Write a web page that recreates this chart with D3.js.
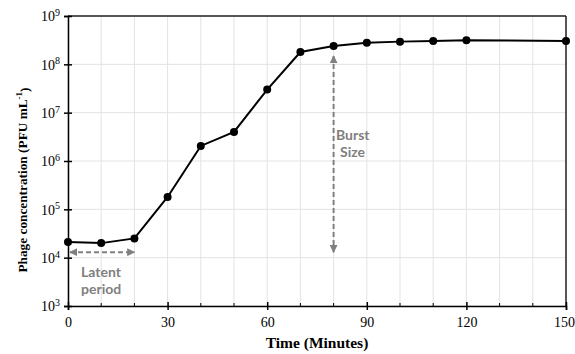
<!DOCTYPE html>
<html>
<head>
<meta charset="utf-8">
<script src="https://cdn.jsdelivr.net/npm/d3@7"></script>
<style>
html,body{margin:0;padding:0;background:#fff;}
svg{display:block;}
</style>
</head>
<body>
<svg id="chart" width="575" height="354"></svg>
<script>
const times = [0, 10, 20, 30, 40, 50, 60, 70, 80, 90, 100, 110, 120, 150];
const pfu = [2.1e4, 2.0e4, 2.5e4, 1.8e5, 2.05e6, 4.0e6, 3.0e7, 1.8e8, 2.4e8, 2.8e8, 2.95e8, 3.05e8, 3.15e8, 3.05e8];
const xTicks = [0, 30, 60, 90, 120, 150];
const xMinor = [10, 20, 40, 50, 70, 80, 100, 110, 130, 140];
const yExponents = [3, 4, 5, 6, 7, 8, 9];
const latentRange = [0, 20];
const latentLevel = 1.3e4;
const burstTime = 80;
const burstRange = [1.8e8, 1.3e4];

const svg = d3.select("#chart");
const L = 68, R = 566, T = 16, B = 306;
const x = d3.scaleLinear().domain([0, 150]).range([L, R]);
const y = d3.scaleLog().domain([1e3, 1e9]).range([B, T]);
const serif = "'Liberation Serif','Times New Roman',serif";

// grid
const grid = svg.append("g");
d3.range(0, 151, 10).forEach(t => {
  grid.append("line").attr("x1", x(t)).attr("x2", x(t)).attr("y1", T).attr("y2", B)
    .attr("stroke", "#e3e3e3").attr("stroke-width", 1);
});
yExponents.forEach(e => {
  grid.append("line").attr("x1", L).attr("x2", R).attr("y1", y(Math.pow(10, e))).attr("y2", y(Math.pow(10, e)))
    .attr("stroke", "#e3e3e3").attr("stroke-width", 1);
});

// frame top/right
svg.append("line").attr("x1", L).attr("x2", R).attr("y1", T).attr("y2", T).attr("stroke", "#222").attr("stroke-width", 1.5);
svg.append("line").attr("x1", R).attr("x2", R).attr("y1", T).attr("y2", B).attr("stroke", "#222").attr("stroke-width", 1.5);

// x axis
const xAxis = d3.axisBottom(x).tickValues(xTicks).tickSize(4).tickPadding(7).tickFormat(d3.format("d"));
const gx = svg.append("g").attr("transform", `translate(0,${B})`).call(xAxis);
gx.select(".domain").attr("stroke", "#000").attr("stroke-width", 1.5);
gx.selectAll(".tick line").attr("stroke", "#000").attr("stroke-width", 1.5).attr("y1", -4).attr("y2", 4);
gx.selectAll(".tick text").attr("font-family", serif).attr("font-size", 14).attr("fill", "#000");
gx.selectAll(".tick text").filter(d => d === 150).attr("text-anchor", "end").attr("x", 8.5);
xMinor.forEach(t => {
  svg.append("line").attr("x1", x(t)).attr("x2", x(t)).attr("y1", B).attr("y2", B - 3)
    .attr("stroke", "#000").attr("stroke-width", 1);
});

// y axis
const yAxis = d3.axisLeft(y).tickValues(yExponents.map(e => Math.pow(10, e))).tickSize(4).tickPadding(6).tickFormat("");
const gy = svg.append("g").attr("transform", `translate(${L},0)`).call(yAxis);
gy.select(".domain").attr("stroke", "#000").attr("stroke-width", 1.5);
gy.selectAll(".tick line").attr("stroke", "#000").attr("stroke-width", 1.5).attr("x1", -4).attr("x2", 4);
gy.selectAll(".tick").each(function(d) {
  const e = Math.round(Math.log10(d));
  const t = d3.select(this).append("text")
    .attr("x", -8).attr("dy", "0.35em").attr("text-anchor", "end")
    .attr("font-family", serif).attr("font-size", 14).attr("fill", "#000");
  t.append("tspan").text("10");
  t.append("tspan").attr("font-size", 10).attr("dy", "-0.55em").text(e);
});

// line and points
const line = d3.line().x((d, i) => x(times[i])).y(d => y(d));
svg.append("path").datum(pfu).attr("d", line).attr("fill", "none").attr("stroke", "#000").attr("stroke-width", 2);
svg.append("g").selectAll("circle").data(pfu).join("circle")
  .attr("cx", (d, i) => x(times[i])).attr("cy", d => y(d)).attr("r", 4).attr("fill", "#000");

// arrows
const defs = svg.append("defs");
defs.append("marker").attr("id", "ah").attr("viewBox", "0 0 10 10").attr("refX", 9).attr("refY", 5)
  .attr("markerWidth", 4).attr("markerHeight", 4).attr("markerUnits", "strokeWidth").attr("orient", "auto-start-reverse")
  .append("path").attr("d", "M0,0 L10,5 L0,10 z").attr("fill", "#808080");

const grey = "#808080";
svg.append("line").attr("x1", x(latentRange[0]) + 2).attr("x2", x(latentRange[1]))
  .attr("y1", y(latentLevel)).attr("y2", y(latentLevel))
  .attr("stroke", grey).attr("stroke-width", 2).attr("stroke-dasharray", "5,3")
  .attr("marker-start", "url(#ah)").attr("marker-end", "url(#ah)");
svg.append("line").attr("x1", x(burstTime)).attr("x2", x(burstTime))
  .attr("y1", y(burstRange[0]) + 4).attr("y2", y(burstRange[1]))
  .attr("stroke", grey).attr("stroke-width", 2).attr("stroke-dasharray", "5,3")
  .attr("marker-start", "url(#ah)").attr("marker-end", "url(#ah)");

const annoFont = "Lato, 'Open Sans', sans-serif";
const lt = svg.append("text").attr("font-family", annoFont).attr("font-weight", "bold").attr("font-size", 14).attr("fill", grey);
lt.append("tspan").attr("x", 81).attr("y", 277).text("Latent");
lt.append("tspan").attr("x", 81).attr("y", 294).text("period");
const bt = svg.append("text").attr("font-family", annoFont).attr("font-weight", "bold").attr("font-size", 14).attr("fill", grey);
bt.append("tspan").attr("x", 336).attr("y", 140).text("Burst");
bt.append("tspan").attr("x", 340).attr("y", 157).text("Size");

// titles
svg.append("text").attr("x", (L + R) / 2).attr("y", 348).attr("text-anchor", "middle")
  .attr("font-family", serif).attr("font-weight", "bold").attr("font-size", 15.5)
  .text("Time (Minutes)");
const yt = svg.append("text").attr("transform", `translate(27,180) rotate(-90)`).attr("text-anchor", "middle")
  .attr("font-family", serif).attr("font-weight", "bold").attr("font-size", 13.3);
yt.append("tspan").text("Phage concentration (PFU mL");
yt.append("tspan").attr("font-size", 9).attr("dy", "-0.55em").text("-1");
yt.append("tspan").attr("dy", "0.55em").text(")");
</script>
</body>
</html>
